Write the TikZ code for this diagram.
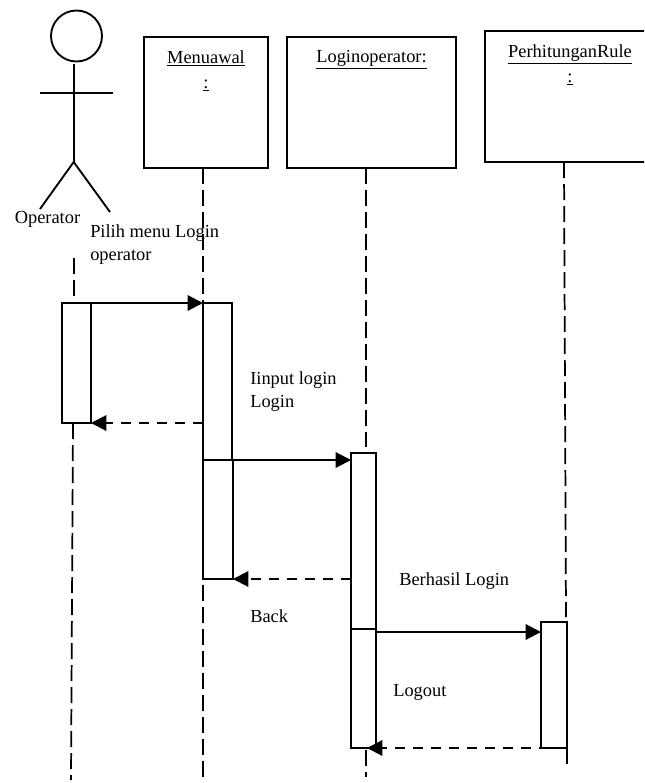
\documentclass[tikz,border=0pt]{standalone}
\usepackage{fontspec}
\setmainfont{Liberation Serif}
\usetikzlibrary{arrows.meta, positioning}

\begin{document}
\begin{tikzpicture}[
    x=0.75pt, y=-0.75pt,
    object/.style={rectangle, draw, line width=1.4pt, inner sep=0pt, outer sep=0pt, minimum width=93pt, minimum height=98.25pt},
    activation/.style={rectangle, draw, fill=white, line width=1.4pt, inner sep=0pt, outer sep=0pt, minimum width=21.75pt},
    caption/.style={anchor=west, inner sep=0pt, align=left, font=\fontsize{13.8}{17.2}\selectfont},
    title/.style={inner sep=0pt, align=center, font=\fontsize{13.8}{18.5}\selectfont},
    limb/.style={line width=1.4pt},
    lifeline/.style={line width=1.3pt, dash pattern=on 12pt off 4.5pt},
    call/.style={line width=1.6pt, -{Triangle[length=11.5pt,width=11.5pt]}},
    reply/.style={line width=1.6pt, dash pattern=on 7.5pt off 6pt, -{Triangle[length=11.5pt,width=11.5pt]}}
]
    \clip (0,0) rectangle (644,783);

    % Actor
    \node[circle, draw, limb, inner sep=0pt, outer sep=0pt, minimum size=38.25pt] (head) at (76.5,36) {};
    \coordinate (neck) at (73.7,64);
    \coordinate (hip) at (73.7,162);
    \coordinate (handl) at (40,93);
    \coordinate (handr) at (113,93);
    \coordinate (footl) at (40,209);
    \coordinate (footr) at (110,212);
    \draw[limb] (neck) -- (hip);
    \draw[limb] (handl) -- (handr);
    \draw[limb] (hip) -- (footl);
    \draw[limb] (hip) -- (footr);
    \node[caption] (operator) at (14.5,219) {Operator};

    % Objects
    \node[object] (menuawal) at (206,102.5) {};
    \node[object, minimum width=126.75pt] (loginop) at (371.5,102.5) {};
    \node[object, minimum width=123.75pt] (rule) at (567.5,96.5) {};
    \node[title] (menutitle) at (206,71) {\underline{Menuawal}\\\underline{:}};
    \node[title] (logintitle) at (371.5,60) {\underline{Loginoperator:}};
    \node[title] (ruletitle) at (570,65) {\underline{PerhitunganRule}\\\underline{:}};

    % Activations
    \node[activation, minimum height=90pt] (actop) at (76.5,363) {};
    \node[activation, minimum height=117.75pt] (actmenua) at (217.5,381.5) {};
    \node[activation, minimum width=22.5pt, minimum height=89.25pt] (actmenub) at (218,519.5) {};
    \node[activation, minimum width=18.75pt, minimum height=132pt] (actlogina) at (363.5,541) {};
    \node[activation, minimum width=18.75pt, minimum height=89.25pt] (actloginb) at (363.5,688.5) {};
    \node[activation, minimum width=19.5pt, minimum height=94.5pt] (actrule) at (554,685) {};

    % Lifelines
    \coordinate (optop) at (74,258);
    \coordinate (opstop) at (74,303);
    \coordinate (opfrom) at (73,423);
    \coordinate (opend) at (71,780);
    \coordinate (menustart) at (203,168);
    \coordinate (menufrom) at (203,585);
    \coordinate (menuend) at (203,777);
    \coordinate (loginstart) at (366,168);
    \coordinate (loginstop) at (366,447);
    \coordinate (loginfrom) at (366,750);
    \coordinate (loginend) at (366,777);
    \coordinate (rulestart) at (564,162);
    \coordinate (rulestop) at (566,617);
    \coordinate (rulefrom) at (567,748);
    \coordinate (ruleend) at (567,765);
    \draw[lifeline] (optop) -- (opstop);
    \draw[lifeline] (opfrom) -- (opend);
    \draw[lifeline] (menustart) -- (actmenua.north west);
    \draw[lifeline] (menufrom) -- (menuend);
    \draw[lifeline] (loginstart) -- (loginstop);
    \draw[lifeline] (loginfrom) -- (loginend);
    \draw[lifeline] (rulestart) -- (rulestop);
    \draw[lifeline] (rulefrom) -- (ruleend);

    % Messages
    \coordinate (logincall) at (351,460);
    \coordinate (rulefromlogin) at (377,632);
    \coordinate (ruleto) at (541,632);
    \coordinate (loginback) at (351,579);
    \coordinate (ruleback) at (367,748);
    \draw[call] (actop.north east) -- (actmenua.north west);
    \draw[reply] (actmenua.west |- actop.south) -- (actop.south east);
    \draw[call] (actmenub.north east) -- (logincall);
    \draw[reply] (loginback) -- (actmenub.south east);
    \draw[call] (rulefromlogin) -- (ruleto);
    \draw[reply] (actrule.south east) -- (ruleback);

    % Labels
    \node[caption] (pilih) at (90,245) {Pilih menu Login\\operator};
    \node[caption] (input) at (250,392) {Iinput login\\Login};
    \node[caption] (berhasil) at (399,581.5) {Berhasil Login};
    \node[caption] (back) at (250,616.5) {Back};
    \node[caption] (logout) at (393,692.5) {Logout};
\end{tikzpicture}
\end{document}
